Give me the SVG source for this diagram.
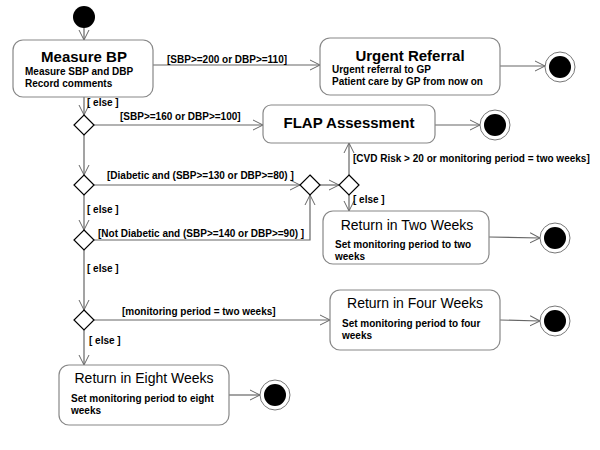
<svg xmlns="http://www.w3.org/2000/svg" width="600" height="450" viewBox="0 0 600 450">
<defs>
<marker id="arr" markerUnits="userSpaceOnUse" markerWidth="12" markerHeight="12" refX="10" refY="5" orient="auto" viewBox="0 0 12 10">
<path d="M0,0 L10,5 L0,10" fill="none" stroke="#666" stroke-width="1"/>
</marker>
<style>
text{font-family:"Liberation Sans",Arial,sans-serif;fill:#000}
.t{font-size:15px;font-weight:bold;text-anchor:middle}
.r{font-size:14px;text-anchor:middle}
.s{font-size:10px;font-weight:bold}
.box{fill:#fff;stroke:#888;stroke-width:1.2}
.dia{fill:#fff;stroke:#000;stroke-width:1.2}
.c{fill:none;stroke:#666;stroke-width:1.2;marker-end:url(#arr)}
.fo{fill:#fff;stroke:#777;stroke-width:1}
</style>
</defs>
<rect width="600" height="450" fill="#fff"/>
<g id="connectors">
<path class="c" d="M84,28 L84,40"/>
<path class="c" d="M153,65 L320,65"/>
<path class="c" d="M500,66 L545,66"/>
<path class="c" d="M84,97 L84,115"/>
<path class="c" d="M94,125 L263,125"/>
<path class="c" d="M435,125 L480,125"/>
<path class="c" d="M84,135 L84,175"/>
<path class="c" d="M94,185 L300,185"/>
<path class="c" d="M84,195 L84,230"/>
<path class="c" d="M94,240 L310,240 L310,195"/>
<path class="c" d="M320,185 L339,185"/>
<path class="c" d="M349,175 L349,143"/>
<path class="c" d="M349,195 L349,211"/>
<path class="c" d="M489,237 L540,238"/>
<path class="c" d="M84,250 L84,310"/>
<path class="c" d="M94,320 L330,320"/>
<path class="c" d="M500,320 L540,321"/>
<path class="c" d="M84,330 L84,365"/>
<path class="c" d="M229,395 L260,395"/>
<text class="s" x="167" y="63">[SBP&gt;=200 or DBP&gt;=110]</text>
<text class="s" x="87" y="106">[ else ]</text>
<text class="s" x="120" y="120">[SBP&gt;=160 or DBP&gt;=100]</text>
<text class="s" x="107" y="179">[Diabetic and (SBP&gt;=130 or DBP&gt;=80) ]</text>
<text class="s" x="87" y="213">[ else ]</text>
<text class="s" x="98" y="237">[Not Diabetic and (SBP&gt;=140 or DBP&gt;=90) ]</text>
<text class="s" x="87" y="272">[ else ]</text>
<text class="s" x="353" y="162">[CVD Risk &gt; 20 or monitoring period = two weeks]</text>
<text class="s" x="353" y="203">[ else ]</text>
<text class="s" x="122" y="315">[monitoring period = two weeks]</text>
<text class="s" x="89" y="344">[ else ]</text>
</g>
<g id="start"><circle cx="84" cy="17" r="11" fill="#000"/></g>
<g id="measure-bp">
<rect class="box" x="13" y="40" width="140" height="57" rx="10"/>
<text class="t" x="84" y="62">Measure BP</text>
<text class="s" x="25" y="75">Measure SBP and DBP</text>
<text class="s" x="25" y="87">Record comments</text>
</g>
<g id="urgent-referral">
<rect class="box" x="320" y="38" width="180" height="57" rx="10"/>
<text class="t" x="410" y="61">Urgent Referral</text>
<text class="s" x="332" y="73">Urgent referral to GP</text>
<text class="s" x="332" y="85">Patient care by GP from now on</text>
</g>
<g id="end1"><circle class="fo" cx="560" cy="67" r="15"/><circle cx="560" cy="67" r="11" fill="#000"/></g>
<g id="d1"><path class="dia" d="M84,115 L94,125 L84,135 L74,125 Z"/></g>
<g id="flap">
<rect class="box" x="263" y="105" width="172" height="38" rx="8"/>
<text class="t" x="349" y="128">FLAP Assessment</text>
</g>
<g id="end2"><circle class="fo" cx="495" cy="125" r="15"/><circle cx="495" cy="125" r="11" fill="#000"/></g>
<g id="d2"><path class="dia" d="M84,175 L94,185 L84,195 L74,185 Z"/></g>
<g id="d3"><path class="dia" d="M84,230 L94,240 L84,250 L74,240 Z"/></g>
<g id="d4"><path class="dia" d="M310,175 L320,185 L310,195 L300,185 Z"/></g>
<g id="d5"><path class="dia" d="M349,175 L359,185 L349,195 L339,185 Z"/></g>
<g id="return-two">
<rect class="box" x="323" y="211" width="166" height="53" rx="10"/>
<text class="r" x="407" y="230">Return in Two Weeks</text>
<text class="s" x="335" y="248">Set monitoring period to two</text>
<text class="s" x="335" y="260">weeks</text>
</g>
<g id="end3"><circle class="fo" cx="555" cy="238" r="15"/><circle cx="555" cy="238" r="11" fill="#000"/></g>
<g id="d6"><path class="dia" d="M84,310 L94,320 L84,330 L74,320 Z"/></g>
<g id="return-four">
<rect class="box" x="330" y="290" width="170" height="60" rx="10"/>
<text class="r" x="415" y="308">Return in Four Weeks</text>
<text class="s" x="342" y="327">Set monitoring period to four</text>
<text class="s" x="342" y="339">weeks</text>
</g>
<g id="end4"><circle class="fo" cx="555" cy="321" r="15"/><circle cx="555" cy="321" r="11" fill="#000"/></g>
<g id="return-eight">
<rect class="box" x="59" y="365" width="170" height="60" rx="10"/>
<text class="r" x="144" y="383">Return in Eight Weeks</text>
<text class="s" x="71" y="402">Set monitoring period to eight</text>
<text class="s" x="71" y="414">weeks</text>
</g>
<g id="end5"><circle class="fo" cx="275" cy="395" r="15"/><circle cx="275" cy="395" r="11" fill="#000"/></g>
</svg>
